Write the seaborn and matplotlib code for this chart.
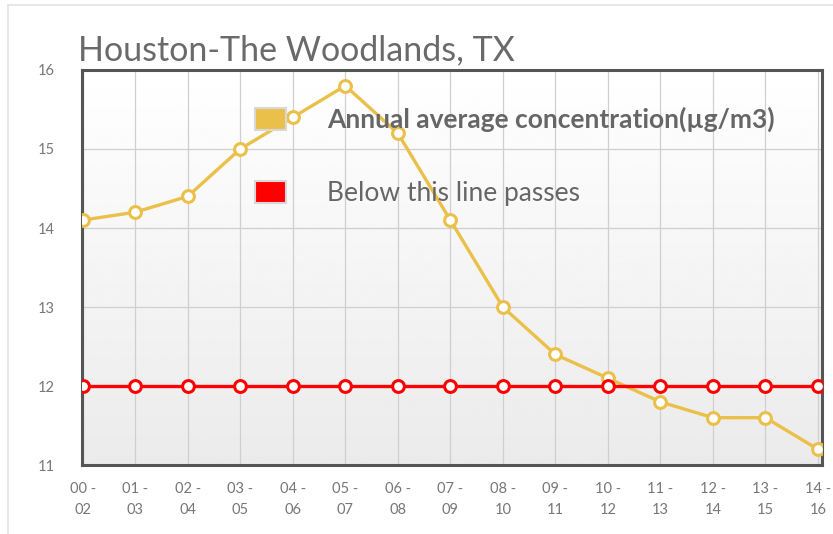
import numpy as np
import pandas as pd
import matplotlib
matplotlib.use("Agg")
import matplotlib.pyplot as plt
from matplotlib.patches import Patch, Rectangle
import seaborn as sns

periods = ["00 -\n02", "01 -\n03", "02 -\n04", "03 -\n05", "04 -\n06", "05 -\n07",
           "06 -\n08", "07 -\n09", "08 -\n10", "09 -\n11", "10 -\n12", "11 -\n13",
           "12 -\n14", "13 -\n15", "14 -\n16"]
annual_avg = [14.1, 14.2, 14.4, 15.0, 15.4, 15.8, 15.2, 14.1, 13.0, 12.4, 12.1, 11.8, 11.6, 11.6, 11.2]
standard = [12] * 15
yticks = [11, 12, 13, 14, 15, 16]

gold = "#ebc04a"
red = "#ff0000"

sns.set_style("white")
plt.rcParams["font.family"] = ["Lato", "DejaVu Sans"]

df = pd.DataFrame({"pos": range(len(periods)), "avg": annual_avg, "std": standard})

fig = plt.figure(figsize=(8.33, 5.34), dpi=100)
ax = fig.add_axes([0.098, 0.129, 0.889, 0.740])

# outer light border of the chart box
fig.patches.append(Rectangle((0.010, -0.05), 1.2, 1.04, transform=fig.transFigure,
                             fill=False, edgecolor="#e3e3e3", linewidth=1.2))

# background gradient
grad = np.linspace(1.0, 0.92, 256).reshape(-1, 1)
ax.imshow(grad, cmap="gray", vmin=0, vmax=1, aspect="auto",
          extent=[-0.02, 14.08, 11, 16], zorder=0)

sns.lineplot(data=df, x="pos", y="avg", ax=ax, color=gold, linewidth=2.4,
             marker="o", markersize=8.5, markerfacecolor="white",
             markeredgecolor=gold, markeredgewidth=2.2, zorder=3)
sns.lineplot(data=df, x="pos", y="std", ax=ax, color=red, linewidth=2.4,
             marker="o", markersize=8.5, markerfacecolor="white",
             markeredgecolor=red, markeredgewidth=2.2, zorder=4)

ax.set_xlim(-0.02, 14.08)
ax.set_ylim(11, 16)
ax.set_xticks(range(len(periods)))
ax.set_xticklabels(periods, linespacing=1.7)
ax.set_yticks(yticks)
ax.set_xlabel("")
ax.set_ylabel("")
ax.grid(True, color="#cfcfcf", linewidth=0.9, zorder=1)
ax.set_axisbelow(True)
ax.tick_params(axis="both", length=0, labelsize=10.5, colors="#777777")
ax.tick_params(axis="y", pad=19)
ax.tick_params(axis="x", pad=12)
for s in ax.spines.values():
    s.set_visible(True)
    s.set_color("#555555")
    s.set_linewidth(2.2)

ax.text(-0.005, 1.01, "Houston-The Woodlands, TX", transform=ax.transAxes,
        fontsize=24.5, color="#6a6a6a", ha="left", va="bottom")

handles = [Patch(facecolor=gold, edgecolor="#d8d8d8", linewidth=1.5),
           Patch(facecolor=red, edgecolor="#d8d8d8", linewidth=1.5)]
leg = ax.legend(handles, ["Annual average concentration(µg/m3)", "Below this line passes"],
                loc="upper left", bbox_to_anchor=(0.216, 0.94), frameon=False,
                fontsize=19, labelspacing=1.85, handletextpad=1.55,
                handlelength=1.2, handleheight=0.9, borderpad=0)
for t in leg.get_texts():
    t.set_color("#666666")
leg.get_texts()[0].set_fontweight("bold")

fig.savefig("out.png", dpi=100)
